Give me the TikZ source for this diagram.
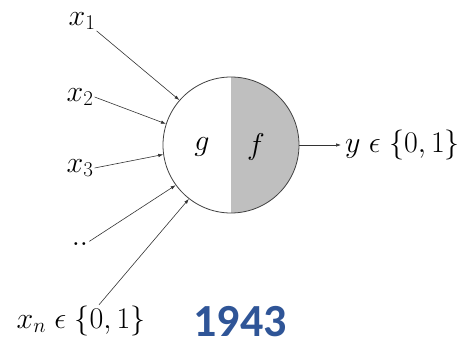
\RequirePackage{fix-cm}
\documentclass[tikz,border=0pt]{standalone}
\usepackage{amsmath,amssymb}
\usepackage{fontspec}
\newfontfamily\yearfont{Carlito}
\usepackage{xcolor}
\usetikzlibrary{arrows.meta}
\definecolor{yearblue}{HTML}{2F5597}
\tikzset{
  lab/.style={font=\fontsize{30}{34}\selectfont, inner sep=1pt},
  inp/.style={black!80, line width=0.6pt, -{Latex[length=5pt,width=3.5pt]}},
}

\begin{document}
\begin{tikzpicture}[x=1pt,y=1pt]
\useasboundingbox (0,0) rectangle (464,348);
\node[circle, draw=black!75, line width=0.8pt, minimum size=136pt, inner sep=0pt,
  path picture={\fill[black!25] (path picture bounding box.north)
    rectangle (path picture bounding box.south east);}] (neuron) at (231,203) {};
\node[lab] (g) at (202,201) {\(g\)};
\node[lab] (f) at (256,201) {\(f\)};
% inputs
\node[lab] (x1) at (82,327) {\(x_1\)};
\node[lab] (x2) at (80,251) {\(x_2\)};
\node[lab] (x3) at (80,180) {\(x_3\)};
\node[lab] (dots) at (80,104) {\(..\)};
\node[lab] (xn) at (81,27) {\(x_n \mathrel{\epsilon} \{0,1\}\)};
\draw[inp] (x1.south east) -- (neuron.139);
\draw[inp] (x2.east) -- (neuron.162);
\draw[inp] (x3.east) -- (neuron.188);
\draw[inp] (dots.north east) -- (neuron.216);
\draw[inp] ([xshift=18pt]xn.north) -- (neuron.232);
% output
\node[lab, anchor=west] (y) at (344,203) {\(y \mathrel{\epsilon} \{0,1\}\)};
\draw[inp] (neuron.east) -- ([xshift=-3pt]y.west);
\node[font=\yearfont\bfseries\fontsize{46}{50}\selectfont, text=yearblue, inner sep=0pt] (year) at (240,26) {1943};
\end{tikzpicture}
\end{document}
